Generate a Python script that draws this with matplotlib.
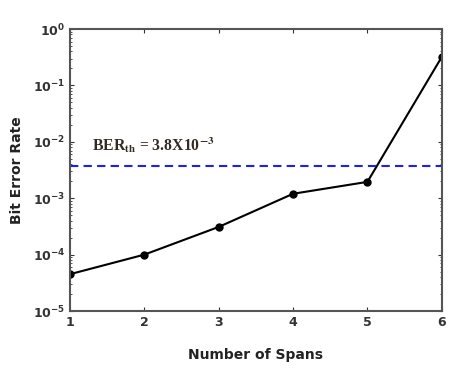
import matplotlib
matplotlib.use("Agg")
import matplotlib.pyplot as plt
from matplotlib.ticker import LogLocator, NullFormatter

spans = [1, 2, 3, 4, 5, 6]
ber = [4.5e-5, 1.0e-4, 3.1e-4, 1.2e-3, 1.95e-3, 0.32]
ber_th = 3.8e-3
xticks = [1, 2, 3, 4, 5, 6]

fig = plt.figure(figsize=(4.73, 3.77), dpi=100)
ax = fig.add_axes([0.148, 0.175, 0.786, 0.748])

ax.plot(spans, ber, color="black", lw=1.5, marker="o", ms=5)
ax.axhline(ber_th, color="#2020ee", lw=1.5, ls=(0, (4, 2.5)))

ax.set_yscale("log")
ax.set_xlim(1, 6)
ax.set_ylim(1e-5, 1)
ax.set_xticks(xticks)
ax.yaxis.set_major_locator(LogLocator(base=10, numticks=10))
ax.yaxis.set_minor_locator(LogLocator(base=10, subs=range(2, 10), numticks=10))
ax.yaxis.set_minor_formatter(NullFormatter())

ax.tick_params(which="both", direction="in", top=True, right=True, colors="#333333",
               labelcolor="#333333")
ax.tick_params(which="major", length=3, labelsize=9)
ax.tick_params(which="minor", length=1.5)
for lab in ax.get_xticklabels() + ax.get_yticklabels():
    lab.set_fontweight("bold")
for s in ax.spines.values():
    s.set_color("#555555")
    s.set_linewidth(1.5)

ax.set_xlabel("Number of Spans", fontsize=10, fontweight="bold", color="#222222", labelpad=14)
ax.set_ylabel("Bit Error Rate", fontsize=10, fontweight="bold", color="#222222", labelpad=6)

ax.text(1.3, 7.0e-3, r"BER$_{\mathbf{th}}$ = 3.8X10$^{\mathbf{-3}}$", fontsize=11.3,
        fontweight="bold", family="Liberation Serif", math_fontfamily="stix",
        color="#332a20")

fig.savefig("out.png", dpi=100)
